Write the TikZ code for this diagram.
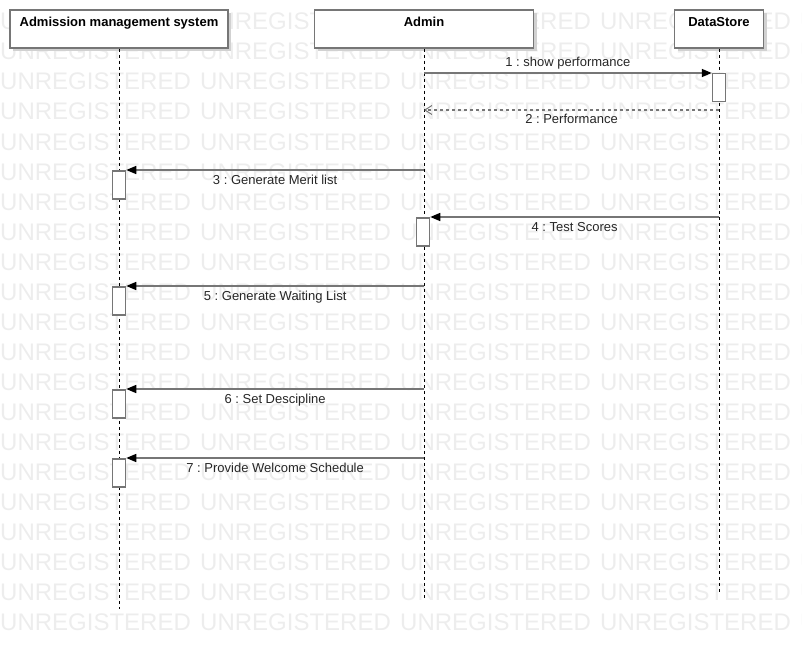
\documentclass[tikz,border=0pt]{standalone}
\usepackage{fontspec}
\setmainfont{Liberation Sans}
\usetikzlibrary{arrows.meta,shadows}
\frenchspacing
\definecolor{edge}{RGB}{118,118,118}
\definecolor{mark}{RGB}{237,237,237}
\tikzset{
  head/.style={draw=edge, line width=1.5pt, fill=white, inner xsep=0pt, inner ysep=0pt,
    text height=17pt, text depth=21pt, font=\fontsize{13}{15}\selectfont\bfseries,
    drop shadow={shadow xshift=3pt, shadow yshift=-3pt, fill=black!18, opacity=1}},
  lifeline/.style={draw=black, line width=1pt, dash pattern=on 3pt off 3pt},
  actbox/.style={draw=edge, line width=1.5pt, fill=white, minimum width=13pt,
    minimum height=28pt, inner sep=0pt, anchor=north},
  call/.style={draw=edge, line width=1.5pt, -{Triangle[length=10pt,width=8pt,color=black]}},
  reply/.style={draw=edge, line width=1.2pt, dash pattern=on 3pt off 3pt,
    -{Straight Barb[length=7pt,width=9pt,line width=1pt]}},
  msg/.style={font=\fontsize{13}{15}\selectfont, anchor=base, inner sep=0pt, text=black!85},
  wm/.style={font=\fontsize{24}{24}\selectfont, text=mark, anchor=base west, inner sep=0pt}
}
\begin{document}
\begin{tikzpicture}[x=1pt,y=-1pt]
\useasboundingbox (0,0) rectangle (802,650);

% tiled background lettering
\begin{scope}
  \clip (0,0) rectangle (802,650);
  \foreach \r in {1,...,21}{
    \foreach \c in {0,...,4}{
      \node[wm] (wm-\r-\c) at (200*\c, 30*\r) {UNREGISTERED};
    }
  }
\end{scope}

% participants
\node[head, minimum width=218pt] (ams)   at (119,29) {Admission management system};
\node[head, minimum width=219pt] (admin) at (424,29) {Admin};
\node[head, minimum width=89pt]  (store) at (719,29) {DataStore};

% lifelines
\coordinate (ams-end)   at (119,609);
\coordinate (admin-end) at (424,598);
\coordinate (store-end) at (719,593);
\draw[lifeline] (ams.south)   -- (ams-end);
\draw[lifeline] (admin.south) -- (admin-end);
\draw[lifeline] (store.south) -- (store-end);

% activation bars
\node[actbox] (s1) at (719,73)  {};
\node[actbox] (a1) at (423,217) {};
\node[actbox] (b1) at (119,170) {};
\node[actbox] (b2) at (119,286) {};
\node[actbox] (b3) at (119,389) {};
\node[actbox] (b4) at (119,458) {};

% messages
\coordinate (r2) at (0,110);
\draw[call] (admin |- s1.north west) -- (s1.north west)
  node[msg, midway, yshift=6pt] (m1) {1 : show performance};
\draw[reply] (store |- r2) -- (admin |- r2)
  node[msg, midway, yshift=-14pt] (m2) {2 : Performance};
\draw[call] (admin |- b1.north east) -- (b1.north east)
  node[msg, midway, yshift=-14pt] (m3) {3 : Generate Merit list};
\draw[call] (store |- a1.north east) -- (a1.north east)
  node[msg, midway, yshift=-14pt] (m4) {4 : Test Scores};
\draw[call] (admin |- b2.north east) -- (b2.north east)
  node[msg, midway, yshift=-14pt] (m5) {5 : Generate Waiting List};
\draw[call] (admin |- b3.north east) -- (b3.north east)
  node[msg, midway, yshift=-14pt] (m6) {6 : Set Descipline};
\draw[call] (admin |- b4.north east) -- (b4.north east)
  node[msg, midway, yshift=-14pt] (m7) {7 : Provide Welcome Schedule};
\end{tikzpicture}
\end{document}
